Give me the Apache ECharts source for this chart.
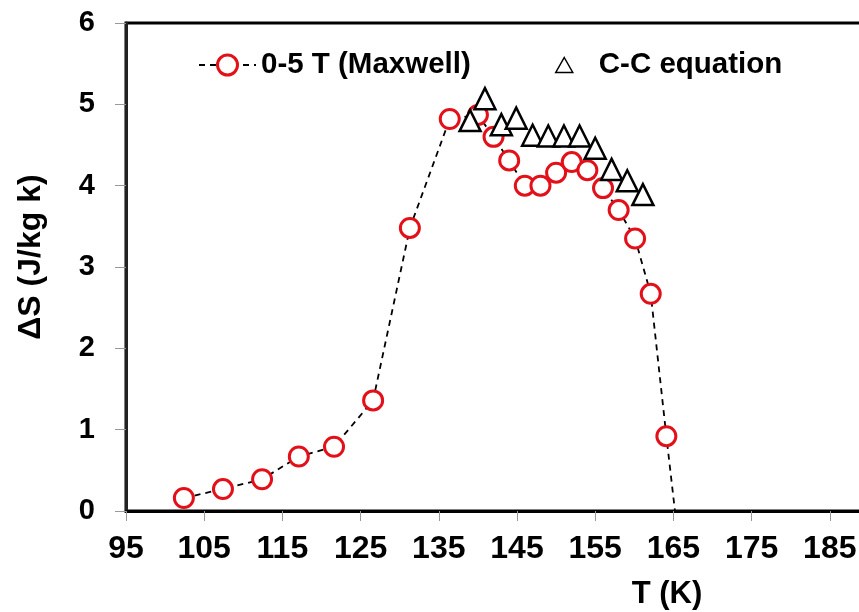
<!DOCTYPE html>
<html>
<head>
<meta charset="utf-8">
<script src="https://cdn.jsdelivr.net/npm/echarts@6/dist/echarts.min.js"></script>
<style>html,body{margin:0;padding:0;background:#fff}#c{width:859px;height:612px}</style>
</head>
<body>
<div id="c"></div>
<script>
const maxwellT = [102.4, 107.4, 112.4, 117.1, 121.6, 126.6, 131.3, 136.4, 140.0, 142.0, 144.0, 146.0, 148.0, 150.0, 152.0, 154.0, 156.0, 158.0, 160.1, 162.1, 164.1, 165.2];
const maxwellS = [0.16, 0.27, 0.39, 0.67, 0.79, 1.36, 3.48, 4.82, 4.87, 4.60, 4.31, 4.00, 4.00, 4.16, 4.29, 4.19, 3.97, 3.70, 3.35, 2.67, 0.92, 0];
const ccT = [139.0, 140.9, 143.0, 144.9, 147.0, 149.0, 151.0, 153.0, 155.0, 157.1, 159.1, 161.1];
const ccS = [4.80, 5.07, 4.75, 4.83, 4.62, 4.61, 4.61, 4.61, 4.46, 4.20, 4.06, 3.89];
const xTicks = {min: 95, max: 195, step: 10};
const yTicks = {min: 0, max: 6, step: 1};
const seriesNames = ['0-5 T (Maxwell)', 'C-C equation'];
const xName = 'T (K)';
const yName = 'ΔS (J/kg k)';

const FONT = '"Liberation Sans", Arial, sans-serif';
const RED = '#e3101a';

const maxData = maxwellT.map((t, i) => {
  const item = {value: [t, maxwellS[i]]};
  if (i === maxwellT.length - 1) item.symbol = 'none';
  return item;
});
const ccData = ccT.map((t, i) => [t, ccS[i]]);

const chart = echarts.init(document.getElementById('c'), null, {renderer: 'canvas'});
chart.setOption({
  backgroundColor: '#fff',
  animation: false,
  grid: {left: 126, top: 23, width: 782, height: 488, show: true, borderColor: '#000', borderWidth: 3,
         containLabel: false, outerBoundsMode: 'none'},
  legend: [
    {
      data: [seriesNames[0]], left: 198, top: 50, padding: 0, itemWidth: 57, itemHeight: 25,
      itemStyle: {color: '#fff', borderColor: RED, borderWidth: 3},
      textStyle: {fontFamily: FONT, fontWeight: 'bold', fontSize: 29.5, color: '#000'}
    },
    {
      data: [seriesNames[1]], left: 555, top: 50, padding: 0, itemWidth: 17, itemHeight: 15,
      itemStyle: {color: '#fff', borderColor: '#000', borderWidth: 1.5},
      textStyle: {fontFamily: FONT, fontWeight: 'bold', fontSize: 29.5, color: '#000', padding: [0, 0, 0, 21]}
    }
  ],
  xAxis: {
    type: 'value', min: xTicks.min, max: xTicks.max, interval: xTicks.step,
    name: xName, nameLocation: 'middle', nameGap: 68,
    nameTextStyle: {fontFamily: FONT, fontWeight: 'bold', fontSize: 31, color: '#000', padding: [0, 0, 0, 300]},
    axisLine: {show: true, lineStyle: {color: '#000', width: 3}},
    axisTick: {show: true, inside: false, length: 10, lineStyle: {color: '#999', width: 1}},
    axisLabel: {fontFamily: FONT, fontWeight: 'bold', fontSize: 32, color: '#000', margin: 22},
    splitLine: {show: false}
  },
  yAxis: {
    type: 'value', min: yTicks.min, max: yTicks.max, interval: yTicks.step,
    name: yName, nameLocation: 'middle', nameGap: 79, nameRotate: 90,
    nameTextStyle: {fontFamily: FONT, fontWeight: 'bold', fontSize: 32, color: '#000', padding: [0, 0, 0, 20]},
    axisLine: {show: true, lineStyle: {color: '#222', width: 3}},
    axisTick: {show: true, inside: false, length: 11, lineStyle: {color: '#999', width: 1}},
    axisLabel: {fontFamily: FONT, fontWeight: 'bold', fontSize: 29, color: '#000', margin: 31},
    splitLine: {show: false}
  },
  series: [
    {
      name: seriesNames[0], type: 'line', data: maxData, symbol: 'circle', symbolSize: 19,
      showAllSymbol: true, clip: false,
      lineStyle: {color: '#000', width: 1.8, type: [6, 5]},
      itemStyle: {color: '#fff', borderColor: RED, borderWidth: 3},
      z: 2
    },
    {
      name: seriesNames[1], type: 'scatter', data: ccData, symbol: 'triangle', symbolSize: 21,
      itemStyle: {color: '#fff', borderColor: '#000', borderWidth: 2.5, opacity: 1},
      z: 3
    }
  ]
});
</script>
</body>
</html>
